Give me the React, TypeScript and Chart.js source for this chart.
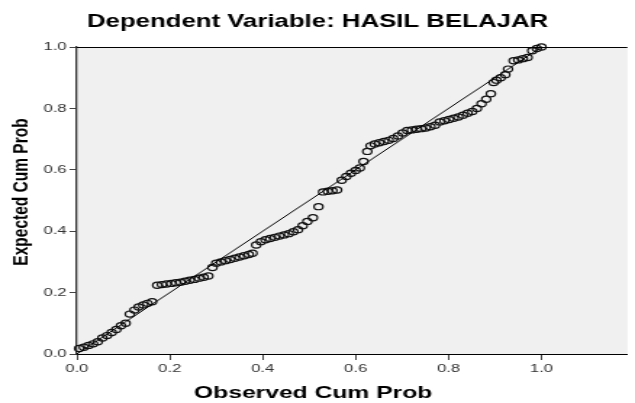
import { useEffect, useRef } from 'react';
import { Chart, registerables } from 'chart.js';

Chart.register(...registerables);

const TITLE = 'Dependent Variable: HASIL BELAJAR';
const X_TITLE = 'Observed Cum Prob';
const Y_TITLE = 'Expected Cum Prob';
const X_TICKS = [0, 0.2, 0.4, 0.6, 0.8, 1.0];
const Y_TICKS = [0, 0.2, 0.4, 0.6, 0.8, 1.0];

const OBSERVED = [
  0.005, 0.015, 0.025, 0.035, 0.045, 0.055, 0.065, 0.075, 0.085, 0.095, 0.105,
  0.114, 0.124, 0.133, 0.143, 0.152, 0.162,
  0.173, 0.183, 0.193, 0.203, 0.213, 0.223, 0.233, 0.243, 0.253, 0.263, 0.273, 0.283,
  0.292, 0.300, 0.310, 0.320, 0.330, 0.340, 0.350, 0.360, 0.370, 0.378,
  0.386, 0.396, 0.406, 0.416, 0.426, 0.436, 0.446, 0.456, 0.466, 0.476, 0.486, 0.496, 0.508, 0.520,
  0.530, 0.540, 0.550, 0.560, 0.570, 0.580, 0.590, 0.600, 0.609, 0.617, 0.625, 0.632,
  0.641, 0.651, 0.661, 0.671, 0.681, 0.691, 0.701, 0.711, 0.721, 0.731, 0.741, 0.751, 0.761, 0.771,
  0.781, 0.791, 0.801, 0.811, 0.821, 0.831, 0.841, 0.851, 0.861, 0.871, 0.881, 0.891,
  0.897, 0.903, 0.912, 0.922, 0.928, 0.940, 0.950, 0.960, 0.970, 0.980, 0.990, 1.000,
];
const EXPECTED = [
  0.018, 0.022, 0.028, 0.033, 0.040, 0.052, 0.060, 0.070, 0.080, 0.092, 0.100,
  0.130, 0.143, 0.153, 0.160, 0.165, 0.170,
  0.224, 0.226, 0.228, 0.230, 0.232, 0.234, 0.237, 0.240, 0.243, 0.247, 0.250, 0.254,
  0.282, 0.296, 0.300, 0.304, 0.308, 0.312, 0.316, 0.320, 0.324, 0.328,
  0.355, 0.366, 0.372, 0.376, 0.380, 0.384, 0.388, 0.392, 0.398, 0.405, 0.418, 0.432, 0.444, 0.480,
  0.528, 0.530, 0.532, 0.534, 0.566, 0.578, 0.589, 0.598, 0.606, 0.627, 0.660, 0.678,
  0.684, 0.688, 0.692, 0.696, 0.702, 0.710, 0.720, 0.728, 0.730, 0.732, 0.734, 0.736, 0.740, 0.745,
  0.756, 0.760, 0.764, 0.768, 0.772, 0.778, 0.784, 0.790, 0.800, 0.815, 0.830, 0.848,
  0.884, 0.892, 0.900, 0.910, 0.928, 0.955, 0.958, 0.962, 0.966, 0.988, 0.995, 1.000,
];
const DIAG_X = [0, 1];
const DIAG_Y = [0, 1];

const W = 635;
const H = 403;
const STRETCH = 1.45;
const IW = Math.round(W / STRETCH);
const FONT = '"Liberation Sans", Arial, Helvetica, sans-serif';

const decorPlugin = {
  id: 'decor',
  beforeDraw(chart: any) {
    const { ctx, chartArea: ca } = chart;
    ctx.save();
    ctx.fillStyle = '#ffffff';
    ctx.fillRect(0, 0, chart.width, chart.height);
    ctx.fillStyle = '#f0f0f0';
    ctx.fillRect(ca.left, ca.top, ca.right - ca.left, ca.bottom - ca.top);
    ctx.restore();
  },
  afterDraw(chart: any) {
    const { ctx, chartArea: ca } = chart;
    ctx.save();
    ctx.strokeStyle = '#000';
    ctx.lineWidth = 1;
    const ty = Math.round(ca.top) + 0.5;
    ctx.beginPath();
    ctx.moveTo(ca.left, ty);
    ctx.lineTo(ca.right, ty);
    ctx.stroke();

    ctx.fillStyle = '#000';
    ctx.textAlign = 'center';
    ctx.textBaseline = 'middle';
    ctx.font = `bold 17.8px ${FONT}`;
    ctx.fillText(TITLE, chart.width / 2, 22);
    ctx.font = `bold 17px ${FONT}`;
    ctx.fillText(X_TITLE, ca.left + 163, 393);
    ctx.translate(14.5, 192);
    ctx.rotate(-Math.PI / 2);
    ctx.font = `bold 15.5px ${FONT}`;
    ctx.fillText(Y_TITLE, 0, 0);
    ctx.restore();
  },
};

export default function App() {
  const ref = useRef<HTMLCanvasElement | null>(null);
  useEffect(() => {
    if (!ref.current) return;
    const points = OBSERVED.map((x, i) => ({ x, y: EXPECTED[i] }));
    const diag = DIAG_X.map((x, i) => ({ x, y: DIAG_Y[i] }));
    const tickFont = { family: FONT, size: 11.5 };
    const chart = new Chart(ref.current, {
      type: 'scatter',
      data: {
        datasets: [
          {
            type: 'line',
            data: diag,
            borderColor: '#000',
            borderWidth: 1,
            pointRadius: 0,
            order: 0,
          } as any,
          {
            type: 'scatter',
            data: points,
            pointStyle: 'circle',
            pointRadius: 3.1,
            pointBorderWidth: 1.2,
            borderColor: '#111',
            backgroundColor: 'rgba(0,0,0,0)',
            clip: false,
            order: 1,
          } as any,
        ],
      },
      options: {
        responsive: false,
        devicePixelRatio: 1,
        animation: false,
        events: [],
        layout: { padding: { top: 47, left: 0, right: 0, bottom: 0 } },
        plugins: {
          legend: { display: false },
          tooltip: { enabled: false },
          title: { display: false },
        },
        scales: {
          x: {
            type: 'linear',
            min: 0,
            max: 1.185,
            afterBuildTicks: (s: any) => {
              s.ticks = X_TICKS.map((v) => ({ value: v }));
            },
            afterFit: (s: any) => {
              s.height = 49;
            },
            ticks: {
              font: tickFont,
              color: '#333',
              padding: 2,
              autoSkip: false,
              maxRotation: 0,
              callback: (v: any) => Number(v).toFixed(1),
            },
            grid: { display: true, drawOnChartArea: false, tickLength: 6, tickColor: '#444', tickWidth: 1 },
            border: { display: true, color: '#000', width: 1 },
          },
          y: {
            type: 'linear',
            min: 0,
            max: 1,
            afterBuildTicks: (s: any) => {
              s.ticks = Y_TICKS.map((v) => ({ value: v }));
            },
            afterFit: (s: any) => {
              s.width = 53;
            },
            ticks: {
              font: tickFont,
              color: '#333',
              padding: 2,
              autoSkip: false,
              callback: (v: any) => Number(v).toFixed(1),
            },
            grid: { display: true, drawOnChartArea: false, tickLength: 5, tickColor: '#444', tickWidth: 1 },
            border: { display: true, color: '#333', width: 1.3 },
          },
        },
      },
      plugins: [decorPlugin],
    });
    return () => chart.destroy();
  }, []);
  return (
    <canvas
      ref={ref}
      width={IW}
      height={H}
      style={{ width: W + 'px', height: H + 'px', display: 'block', position: 'absolute', left: 0, top: 0 }}
    />
  );
}
